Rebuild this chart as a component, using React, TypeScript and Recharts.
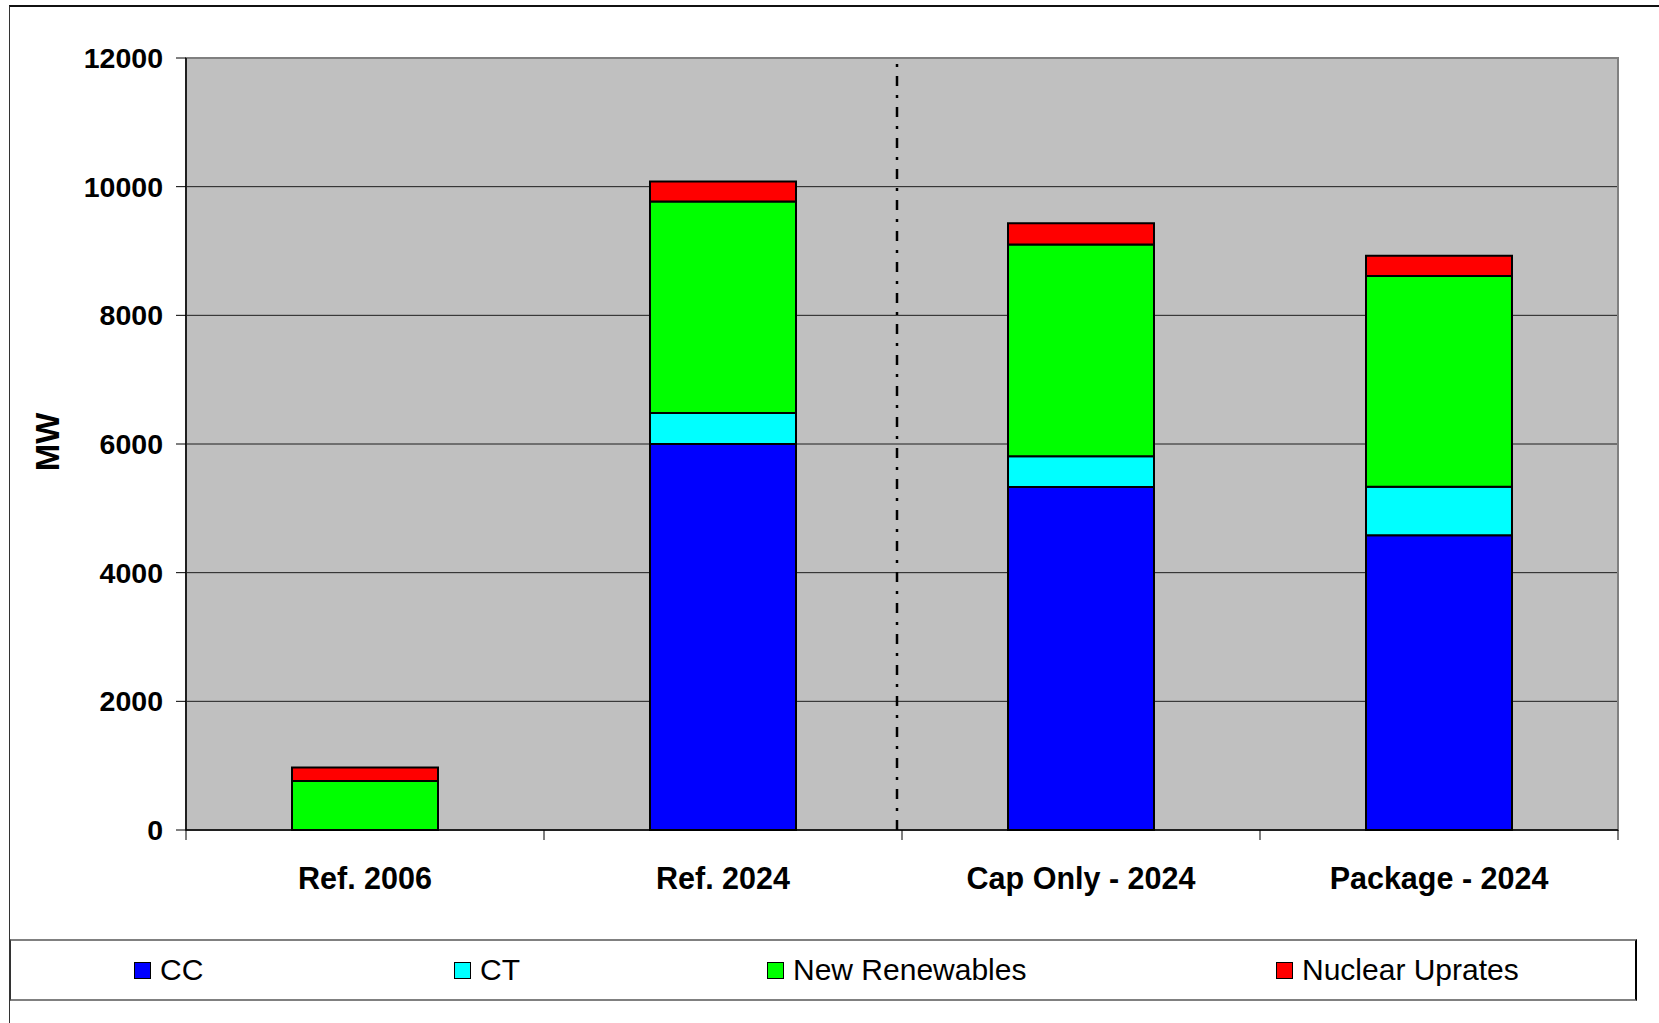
import { BarChart, Bar, XAxis, YAxis, CartesianGrid, ReferenceLine, ReferenceArea } from "recharts";

const categories = ["Ref. 2006", "Ref. 2024", "Cap Only - 2024", "Package - 2024"];
const ccValues = [0, 6000, 5330, 4580];
const ctValues = [0, 480, 480, 755];
const renewValues = [760, 3290, 3290, 3275];
const nuclearValues = [210, 310, 330, 315];
const yTicks = [0, 2000, 4000, 6000, 8000, 10000, 12000];

const series = [
  { key: "cc", name: "CC", color: "#0000FF" },
  { key: "ct", name: "CT", color: "#00FFFF" },
  { key: "renew", name: "New Renewables", color: "#00FF00" },
  { key: "nuclear", name: "Nuclear Uprates", color: "#FF0000" },
];

const data = categories.map((name, i) => ({
  name,
  cc: ccValues[i],
  ct: ctValues[i],
  renew: renewValues[i],
  nuclear: nuclearValues[i],
}));

const font = "'Liberation Sans', Arial, sans-serif";
const W = 1659;
const H = 1023;
const margin = { top: 58, right: 41, bottom: 133, left: 0 };
const band = (W - 186 - margin.right) / categories.length;

const CategoryTick = (props: any) => {
  const { x, y, payload, index } = props;
  return (
    <g>
      <line x1={x - band / 2} x2={x - band / 2} y1={y} y2={y + 10} stroke="#000" />
      {index === categories.length - 1 && (
        <line x1={x + band / 2} x2={x + band / 2} y1={y} y2={y + 10} stroke="#000" />
      )}
      <text x={x} y={y + 59} textAnchor="middle" fontFamily={font} fontWeight="bold" fontSize={30.5} fill="#000">
        {payload.value}
      </text>
    </g>
  );
};

// separator sits a few px left of the category boundary in the original
const Separator = (props: any) => {
  const { x1, y1, x2, y2 } = props;
  return (
    <line x1={x1 - 5} y1={y1} x2={x2 - 5} y2={y2} stroke="#000" strokeWidth={2.5} strokeDasharray="10 9 3 9" />
  );
};

const legendLeft = [133, 453, 766, 1275];

const App = () => {
  return (
    <div style={{ position: "absolute", left: 0, top: 0, width: W, height: H, background: "#fff", overflow: "hidden" }}>
      <div style={{ position: "absolute", left: 9, top: 5, width: W, height: H, borderLeft: "1.5px solid #333", borderTop: "2px solid #111" }} />
      <BarChart width={W} height={H} data={data} margin={margin} style={{ position: "absolute", left: 0, top: 0 }}>
        <CartesianGrid vertical={false} stroke="#000" strokeOpacity={0.85} fill="#C0C0C0" fillOpacity={1} />
        <ReferenceArea y1={0} y2={12000} fill="none" fillOpacity={0} stroke="#808080" strokeWidth={2} />
        <XAxis
          dataKey="name"
          height={60}
          tickSize={0}
          tickMargin={0}
          tickLine={false}
          axisLine={{ stroke: "#000", strokeWidth: 1.5 }}
          tick={<CategoryTick />}
          interval={0}
        />
        <YAxis
          width={186}
          domain={[0, 12000]}
          ticks={yTicks}
          tickSize={10}
          tickMargin={13}
          axisLine={{ stroke: "#000", strokeWidth: 1.5 }}
          tickLine={{ stroke: "#000" }}
          tick={{ fill: "#000", fontFamily: font, fontWeight: "bold", fontSize: 28.5 }}
        />
        {series.map((s) => (
          <Bar
            key={s.key}
            dataKey={s.key}
            name={s.name}
            stackId="a"
            fill={s.color}
            stroke="#000"
            strokeWidth={2}
            barSize={146}
            isAnimationActive={false}
          />
        ))}
        <ReferenceLine x="Ref. 2024" position="end" shape={<Separator />} />
      </BarChart>
      <div
        style={{
          position: "absolute",
          left: 48,
          top: 442,
          transform: "translate(-50%, -50%) rotate(-90deg)",
          fontFamily: font,
          fontWeight: "bold",
          fontSize: 33,
          color: "#000",
          whiteSpace: "nowrap",
        }}
      >
        MW
      </div>
      <div
        style={{
          position: "absolute",
          left: 10,
          top: 939,
          width: 1627,
          height: 62,
          borderTop: "2px solid #808080",
          borderBottom: "2px solid #808080",
          borderRight: "2px solid #000",
          borderLeft: "1.5px solid #333",
          boxSizing: "border-box",
          fontFamily: font,
          fontSize: 30,
          color: "#000",
        }}
      >
        {series.map((s, i) => (
          <div
            key={s.key}
            style={{ position: "absolute", left: legendLeft[i] - 10, top: 0, height: 58, display: "flex", alignItems: "center", whiteSpace: "nowrap" }}
          >
            <span
              style={{ display: "inline-block", width: 15, height: 15, background: s.color, border: "1.5px solid #000", marginRight: 9 }}
            />
            {s.name}
          </div>
        ))}
      </div>
    </div>
  );
};

export default App;
